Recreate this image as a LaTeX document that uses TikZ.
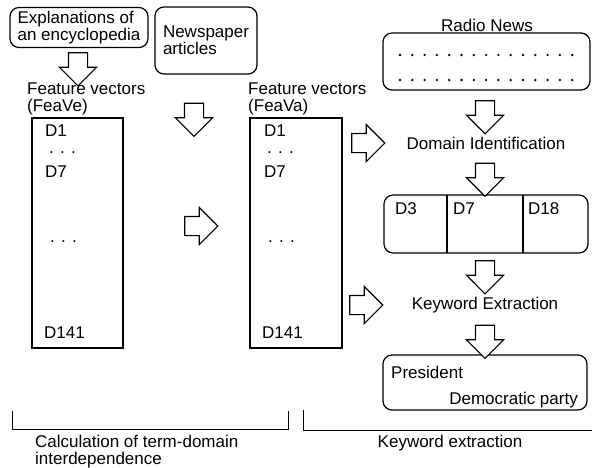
\documentclass[tikz,border=0pt]{standalone}
\usepackage{fontspec}
\setmainfont{Liberation Sans}
\usetikzlibrary{shapes.arrows,positioning,calc}

\tikzset{
  txt/.style={font=\fontsize{17}{17}\selectfont, inner sep=0pt},
  dotstxt/.style={txt, text height=3pt, text depth=0pt},
  rbox/.style={draw, line width=1.2pt, rounded corners=9pt, inner sep=0pt},
  vbox/.style={draw, line width=1.2pt, inner sep=0pt},
  barrow/.style={single arrow, draw, line width=1.1pt, fill=white,
    single arrow head extend=9pt, single arrow tip angle=90,
    inner xsep=0pt, inner ysep=9pt, text height=0pt, text depth=0pt,
    minimum height=33pt},
}

\begin{document}
\begin{tikzpicture}[x=1pt, y=-1pt]
    \useasboundingbox (0,0) rectangle (592,467);

    % Sources
    \node[rbox, txt, align=left, minimum width=138pt, minimum height=40pt] (encbox) at (79,27.5) {Explanations of\\an encyclopedia};
    \node[rbox, txt, align=left, minimum width=102pt, minimum height=67pt] (newsbox) at (206,40.5) {Newspaper\\articles};

    % Feature vectors (FeaVe)
    \node[txt, align=left, anchor=west] (vetitle) at (27,99) {Feature vectors\\(FeaVe)};
    \node[vbox, minimum width=91pt, minimum height=230pt] (feave) at (77.5,233) {};
    \node[txt, anchor=west] (ve1) at (45,131) {D1};
    \node[dotstxt, anchor=west] (vedots1) at (49,152) {. . .};
    \node[txt, anchor=west] (ve7) at (45,172) {D7};
    \node[dotstxt, anchor=west] (vedots2) at (50,241) {. . .};
    \node[txt, anchor=west] (ve141) at (44,333) {D141};

    % Feature vectors (FeaVa)
    \node[txt, align=left, anchor=west] (vatitle) at (248,99) {Feature vectors\\(FeaVa)};
    \node[vbox, minimum width=92pt, minimum height=230pt] (feava) at (296,233) {};
    \node[txt, anchor=west] (va1) at (264,131) {D1};
    \node[dotstxt, anchor=west] (vadots1) at (267,152) {. . .};
    \node[txt, anchor=west] (va7) at (264,172) {D7};
    \node[dotstxt, anchor=west] (vadots2) at (268,241) {. . .};
    \node[txt, anchor=west] (va141) at (262,333) {D141};

    % Radio news
    \node[txt] (radiotitle) at (487,25) {Radio News};
    \node[rbox, minimum width=207pt, minimum height=57pt] (radiobox) at (486.5,61.5) {};
    \foreach \i in {0,...,14} {
        \fill (400+12.3*\i,55) circle (1.3pt);
        \fill (400+12.3*\i,80) circle (1.3pt);
    }
    \node[txt] (domid) at (486,143) {Domain Identification};

    % Domains
    \node[rbox, minimum width=204pt, minimum height=58pt] (dombox) at (486,224) {};
    \draw[line width=1.2pt] (447,195) -- (447,253);
    \draw[line width=1.2pt] (523,195) -- (523,253);
    \node[txt, anchor=west] (dom3) at (395,209) {D3};
    \node[txt, anchor=west] (dom7) at (453,209) {D7};
    \node[txt, anchor=west] (dom18) at (528,209) {D18};

    \node[txt] (kwext) at (485,305) {Keyword Extraction};

    % Keywords
    \node[rbox, minimum width=204pt, minimum height=55pt] (presbox) at (485,382.5) {};
    \node[txt, anchor=west] (pres) at (391,372) {President};
    \node[txt, anchor=east] (dem) at (578,400) {Democratic party};

    % Block arrows
    \node[barrow, rotate=-90] (a1) at (78,64.5) {};
    \node[barrow, rotate=-90] (a2) at (194,115) {};
    \node[barrow] (a3) at (196.5,226) {};
    \node[barrow] (a4) at (363.5,143) {};
    \node[barrow] (a5) at (361.5,305) {};
    \node[barrow, rotate=-90] (a6) at (485,112.5) {};
    \node[barrow, rotate=-90] (a7) at (485,175) {};
    \node[barrow, rotate=-90] (a8) at (485,272.5) {};
    \node[barrow, rotate=-90] (a9) at (485,337) {};

    % Brackets
    \draw[line width=1pt] (12,411) -- (12,429) -- (288,429) -- (288,411);
    \draw[line width=1pt] (303,410) -- (303,430) -- (592,430);
    \node[txt, align=left, anchor=west] (calc) at (35,451.5) {Calculation of term-domain\\interdependence};
    \node[txt] (kwlabel) at (450,443) {Keyword extraction};
\end{tikzpicture}
\end{document}
